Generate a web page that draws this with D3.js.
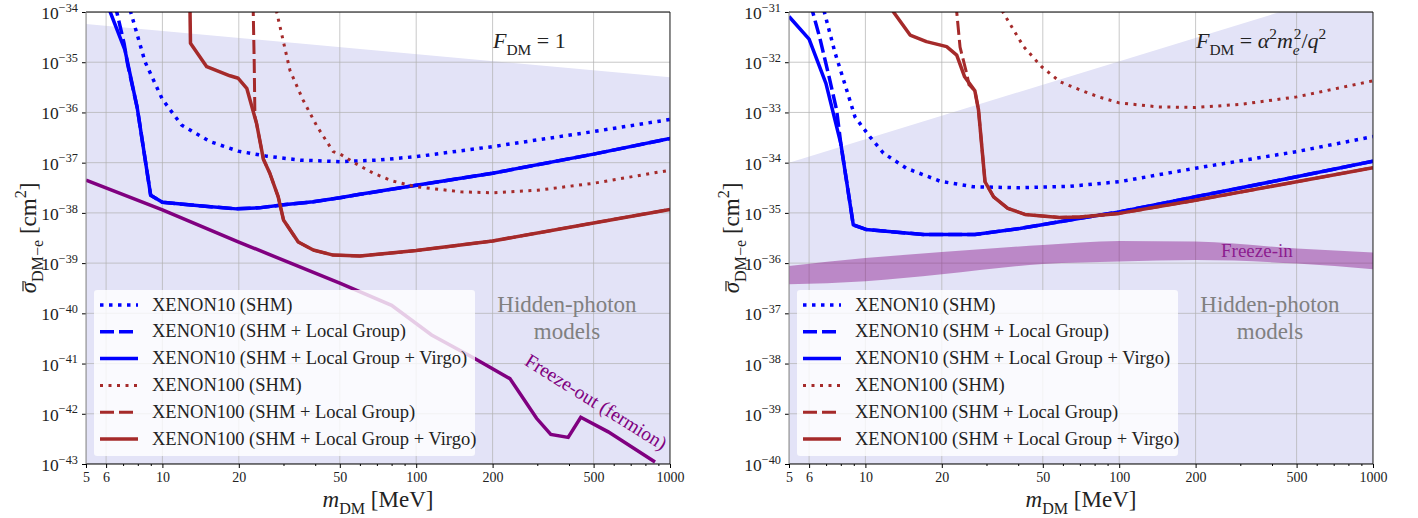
<!DOCTYPE html>
<html><head><meta charset="utf-8">
<script src="https://cdn.jsdelivr.net/npm/d3@7"></script>
<style>
body{margin:0;background:#fff;}
text{font-family:"Liberation Serif","DejaVu Serif",serif;fill:#222;}
</style></head><body>
<svg width="1418" height="518"></svg>
<script>
// mass in MeV, cross section given as log10(sigma / cm^2)
var massTicks = [5, 6, 10, 20, 50, 100, 200, 500, 1000];
var massMinor = [7, 8, 9, 30, 40, 60, 70, 80, 90, 300, 400, 600, 700, 800, 900];

// ---- left panel, F_DM = 1
var hiddenLeft = [[5, -34.24], [1000, -35.30]];
var x10ShmLeft = [[7.3,-33.8],[7.5,-34.0],[8.54,-34.99],[10,-35.74],[11.9,-36.25],[15.4,-36.58],[19.9,-36.77],[25.7,-36.87],[35,-36.95],[50,-36.98],[70,-36.95],[100,-36.88],[200,-36.68],[500,-36.38],[1000,-36.14]];
var x10LgLeft = [[6.5,-33.8],[6.61,-34.0],[7.06,-34.62],[7.3,-35.05],[7.96,-35.91],[8.99,-37.65],[10,-37.79],[14,-37.86],[19.6,-37.92],[24,-37.9],[30,-37.84],[39.3,-37.78],[50,-37.7],[60,-37.63],[100,-37.45],[200,-37.21],[500,-36.83],[1000,-36.52]];
var x10VirgoLeft = [[6.1,-33.8],[6.23,-34.0],[7.12,-34.76],[7.96,-35.91],[8.99,-37.65],[10,-37.79],[14,-37.86],[19.6,-37.92],[24,-37.9],[30,-37.84],[39.3,-37.78],[50,-37.7],[60,-37.63],[100,-37.45],[200,-37.21],[500,-36.83],[1000,-36.52]];
var x100ShmLeft = [[27.9,-33.8],[28.2,-34.0],[31.8,-35.16],[35.8,-35.75],[40.7,-36.28],[47.1,-36.78],[50.2,-36.83],[58.3,-37.03],[67.8,-37.21],[80,-37.36],[100,-37.48],[150,-37.58],[200,-37.6],[300,-37.55],[500,-37.41],[1000,-37.15]];
var x100LgLeft = [[22.8,-33.8],[22.8,-34.0],[23.0,-35.0],[23.15,-36.09],[23.5,-36.22],[25,-36.93],[26.5,-37.21],[28.6,-37.68],[30,-38.14],[34.3,-38.58],[39.3,-38.74],[47.1,-38.84],[60,-38.86],[100,-38.75],[200,-38.56],[500,-38.2],[1000,-37.93]];
var x100VirgoLeft = [[12.85,-33.8],[12.85,-34.0],[12.9,-34.62],[14.95,-35.09],[18.46,-35.27],[19.9,-35.32],[21.5,-35.52],[23.5,-36.22],[25,-36.93],[26.5,-37.21],[28.6,-37.68],[30,-38.14],[34.3,-38.58],[39.3,-38.74],[47.1,-38.84],[60,-38.86],[100,-38.75],[200,-38.56],[500,-38.2],[1000,-37.93]];
var freezeOut = [[5,-37.35],[10,-37.94],[20,-38.58],[50,-39.4],[80,-39.84],[115,-40.43],[170,-40.9],[234,-41.3],[298,-42.09],[339,-42.41],[397,-42.47],[445,-42.07],[571,-42.36],[873,-42.96]];

// ---- right panel, F_DM = alpha^2 m_e^2 / q^2
var hiddenRight = [[5, -34.0], [1000, -30.43]];
var x10ShmRight = [[6.8,-30.8],[6.89,-31.0],[7.6,-31.82],[8.2,-32.35],[9.1,-33.09],[10.4,-33.48],[11.77,-33.81],[14.5,-34.11],[19.7,-34.37],[26.6,-34.48],[40.6,-34.5],[64,-34.47],[100,-34.38],[200,-34.11],[500,-33.78],[1000,-33.48]];
var x10LgRight = [[6.15,-30.8],[6.2,-31.0],[6.6,-31.5],[7.2,-32.3],[7.7,-32.95],[8.0,-33.62],[8.96,-35.24],[10.05,-35.33],[16.9,-35.43],[27,-35.43],[40.6,-35.31],[64,-35.14],[100,-34.98],[200,-34.68],[500,-34.28],[1000,-33.97]];
var x10VirgoRight = [[5,-31.09],[6.0,-31.54],[6.99,-32.42],[8.0,-33.62],[8.96,-35.24],[10.05,-35.33],[16.9,-35.43],[27,-35.43],[40.6,-35.31],[64,-35.14],[100,-34.98],[200,-34.68],[500,-34.28],[1000,-33.97]];
var x100ShmRight = [[34.5,-30.8],[34.8,-31.0],[42,-31.69],[49.5,-32.09],[58.5,-32.39],[70,-32.55],[83,-32.69],[100,-32.81],[143,-32.89],[200,-32.9],[300,-32.84],[500,-32.69],[1000,-32.37]];
var x100LgRight = [[22.9,-30.8],[22.9,-31.0],[23.6,-31.7],[25.0,-32.2],[25.6,-32.45],[27,-32.57],[27.9,-32.95],[29.6,-34.38],[32,-34.68],[36.4,-34.91],[42.5,-35.03],[58,-35.09],[70,-35.08],[100,-35.01],[200,-34.75],[500,-34.38],[1000,-34.1]];
var x100VirgoRight = [[12.6,-30.8],[12.9,-31.0],[15.0,-31.46],[17.4,-31.59],[20.9,-31.69],[22.9,-31.86],[24.6,-32.29],[27,-32.57],[27.9,-32.95],[29.6,-34.38],[32,-34.68],[36.4,-34.91],[42.5,-35.03],[58,-35.09],[70,-35.08],[100,-35.01],[200,-34.75],[500,-34.38],[1000,-34.1]];
var freezeInUpper = [[5,-36.06],[10,-35.9],[20,-35.78],[50,-35.64],[100,-35.56],[200,-35.57],[500,-35.71],[1000,-35.79]];
var freezeInLower = [[5,-36.42],[10,-36.36],[20,-36.22],[50,-36.02],[100,-35.97],[200,-35.94],[500,-36.01],[1000,-36.12]];

var legendLabels = ['XENON10 (SHM)', 'XENON10 (SHM + Local Group)', 'XENON10 (SHM + Local Group + Virgo)',
                    'XENON100 (SHM)', 'XENON100 (SHM + Local Group)', 'XENON100 (SHM + Local Group + Virgo)'];

var blue = '#0000ff', red = '#a52a2a', purple = '#800080';
var styles = [
  {color: blue, width: 3.5, dash: '3.5,5.5'},
  {color: blue, width: 3.5, dash: '14,5'},
  {color: blue, width: 3.5, dash: null},
  {color: red, width: 3, dash: '3,5.5'},
  {color: red, width: 3, dash: '14,5'},
  {color: red, width: 3.5, dash: null}
];

var svg = d3.select('svg');
var W = 584, H = 452, TOP = 12;

function pw(a) { return a.map(function(d) { return [d[0], Math.pow(10, d[1])]; }); }

// text with italic / sub / sup pieces
function rich(t, parts, size) {
  var shift = 0;
  parts.forEach(function(p) {
    var target = p.sub ? size * 0.3 : p.sup ? -size * 0.42 : 0;
    var ts = t.append('tspan').text(p.t)
      .attr('dy', target - shift)
      .style('font-size', (p.sub || p.sup) ? (size * 0.7) + 'px' : size + 'px')
      .style('font-style', p.i ? 'italic' : 'normal');
    if (p.dx) ts.attr('dx', p.dx);
    shift = target;
  });
}

function panel(opt) {
  var g = svg.append('g').attr('transform', 'translate(' + opt.left + ',' + TOP + ')');
  var x = d3.scaleLog().domain([5, 1000]).range([0, W]);
  var y = d3.scaleLog().domain([Math.pow(10, opt.yMin), Math.pow(10, opt.yMax)]).range([H, 0]);
  var line = d3.line().x(function(d) { return x(d[0]); }).y(function(d) { return y(d[1]); });

  var cid = 'clip' + opt.left;
  g.append('clipPath').attr('id', cid).append('rect').attr('width', W).attr('height', H);
  var body = g.append('g').attr('clip-path', 'url(#' + cid + ')');

  // hidden photon region
  var hp = pw(opt.hidden);
  var area = d3.area().x(function(d) { return x(d[0]); }).y0(H).y1(function(d) { return y(d[1]); });
  body.append('path').attr('d', area(hp)).attr('fill', '#e3e3f7');

  // grid
  var decades = d3.range(opt.yMin, opt.yMax + 1);
  body.selectAll('.gx').data(massTicks).enter().append('line')
    .attr('x1', function(d) { return x(d); }).attr('x2', function(d) { return x(d); })
    .attr('y1', 0).attr('y2', H).attr('stroke', '#b0b0b0').attr('stroke-opacity', 0.7).attr('stroke-width', 1);
  body.selectAll('.gy').data(decades).enter().append('line')
    .attr('y1', function(d) { return y(Math.pow(10, d)); }).attr('y2', function(d) { return y(Math.pow(10, d)); })
    .attr('x1', 0).attr('x2', W).attr('stroke', '#b0b0b0').attr('stroke-opacity', 0.7).attr('stroke-width', 1);

  if (opt.band) {
    var up = pw(opt.band[0]), lo = pw(opt.band[1]);
    var bandArea = d3.area().curve(d3.curveMonotoneX)
      .x(function(d, i) { return x(d[0]); })
      .y0(function(d, i) { return y(lo[i][1]); })
      .y1(function(d) { return y(d[1]); });
    body.append('path').attr('d', bandArea(up)).attr('fill', purple).attr('fill-opacity', 0.4);
    body.append('text').attr('x', opt.bandLabel[0]).attr('y', opt.bandLabel[1])
      .style('font-size', '19px').style('fill', purple).style('fill-opacity', 0.8).text('Freeze-in');
  }

  if (opt.freeze) {
    body.append('path').attr('d', line(pw(opt.freeze))).attr('fill', 'none')
      .attr('stroke', purple).attr('stroke-width', 3.5);
  }

  opt.curves.forEach(function(c, i) {
    var s = styles[i];
    body.append('path').attr('d', line(pw(c))).attr('fill', 'none')
      .attr('stroke', s.color).attr('stroke-width', s.width)
      .attr('stroke-dasharray', s.dash).attr('stroke-linejoin', 'round');
  });

  // legend
  var lg = g.append('g').attr('transform', 'translate(8,278)');
  lg.append('rect').attr('width', 381).attr('height', 166).attr('rx', 3)
    .attr('fill', '#fff').attr('fill-opacity', 0.8);
  legendLabels.forEach(function(lab, i) {
    var yy = 15 + i * 26.8, s = styles[i];
    lg.append('line').attr('x1', 6).attr('x2', 44).attr('y1', yy).attr('y2', yy)
      .attr('stroke', s.color).attr('stroke-width', s.width).attr('stroke-dasharray', s.dash);
    lg.append('text').attr('x', 58).attr('y', yy + 5.5).style('font-size', '18.5px').text(lab);
  });

  // texts
  var hpText = g.append('text').attr('text-anchor', 'middle').style('font-size', '23px').style('fill', '#808080');
  hpText.append('tspan').attr('x', 481).attr('y', 300).text('Hidden-photon');
  hpText.append('tspan').attr('x', 481).attr('y', 327).text('models');

  rich(g.append('text').attr('x', 407).attr('y', 36), opt.formula, 22);

  if (opt.freeze) {
    g.append('text').attr('transform', 'translate(' + (596 - opt.left) + ',' + (402 - TOP) + ') rotate(32)')
      .attr('text-anchor', 'middle').attr('dominant-baseline', 'central')
      .style('font-size', '19.5px').style('fill', purple).text('Freeze-out (fermion)');
  }

  // axes
  var xa = g.append('g').attr('transform', 'translate(0,' + H + ')')
    .call(d3.axisBottom(x).tickValues(massTicks).tickFormat(d3.format('d')).tickSize(4).tickPadding(4));
  xa.selectAll('text').style('font-size', '14px').style('font-family', '"Liberation Serif",serif').attr('fill', '#222');
  xa.select('.domain').remove();
  g.append('g').attr('transform', 'translate(0,' + H + ')')
    .call(d3.axisBottom(x).tickValues(massMinor).tickFormat('').tickSize(2))
    .select('.domain').remove();

  var ya = g.append('g').call(d3.axisLeft(y).tickValues(decades.map(function(d) { return Math.pow(10, d); })).tickFormat('').tickSize(4));
  ya.select('.domain').remove();
  decades.forEach(function(d) {
    var t = g.append('text').attr('x', -8).attr('y', y(Math.pow(10, d)) + 7).attr('text-anchor', 'end');
    rich(t, [{t: '10'}, {t: '\u2212' + (-d), sup: true}], 17.5);
  });

  g.append('line').attr('x1', 0).attr('x2', W).attr('y1', 0).attr('y2', 0).attr('stroke', '#000');
  g.append('line').attr('x1', 0).attr('x2', W).attr('y1', H).attr('y2', H).attr('stroke', '#000');
  g.append('line').attr('x1', W).attr('x2', W).attr('y1', 0).attr('y2', H).attr('stroke', '#222');
  g.append('line').attr('x1', 0).attr('x2', 0).attr('y1', 0).attr('y2', H).attr('stroke', '#888');

  rich(g.append('text').attr('x', W / 2).attr('y', 495).attr('text-anchor', 'middle'),
    [{t: 'm', i: true}, {t: 'DM', sub: true}, {t: ' [MeV]'}], 23);

  // y label: sigma with a bar, drawn as a line over the glyph
  var yl = g.append('g').attr('transform', 'translate(' + (36 - 86) + ',' + (H / 2) + ') rotate(-90)');
  var ylt = yl.append('text').attr('x', 0).attr('y', 0);
  rich(ylt, [{t: '\u03c3', i: true}, {t: 'DM\u2212e', sub: true}, {t: ' [cm'}, {t: '2', sup: true}, {t: ']'}], 23);
  var len = ylt.node().getComputedTextLength();
  var sw = ylt.select('tspan').node().getComputedTextLength();
  ylt.attr('x', -len / 2);
  yl.append('line').attr('x1', -len / 2 + 2).attr('x2', -len / 2 + sw + 1)
    .attr('y1', -13).attr('y2', -13).attr('stroke', '#222').attr('stroke-width', 1.2);
}

panel({
  left: 86, yMin: -43, yMax: -34, hidden: hiddenLeft,
  curves: [x10ShmLeft, x10LgLeft, x10VirgoLeft, x100ShmLeft, x100LgLeft, x100VirgoLeft],
  freeze: freezeOut,
  formula: [{t: 'F', i: true}, {t: 'DM', sub: true}, {t: ' = 1'}]
});

panel({
  left: 789, yMin: -40, yMax: -31, hidden: hiddenRight,
  curves: [x10ShmRight, x10LgRight, x10VirgoRight, x100ShmRight, x100LgRight, x100VirgoRight],
  band: [freezeInUpper, freezeInLower], bandLabel: [432, 245],
  formula: [{t: 'F', i: true}, {t: 'DM', sub: true}, {t: ' = '}, {t: '\u03b1', i: true}, {t: '2', sup: true},
            {t: 'm', i: true}, {t: 'e', sub: true, i: true}, {t: '2', sup: true, dx: -6}, {t: '/'}, {t: 'q', i: true}, {t: '2', sup: true}]
});
</script>
</body></html>
